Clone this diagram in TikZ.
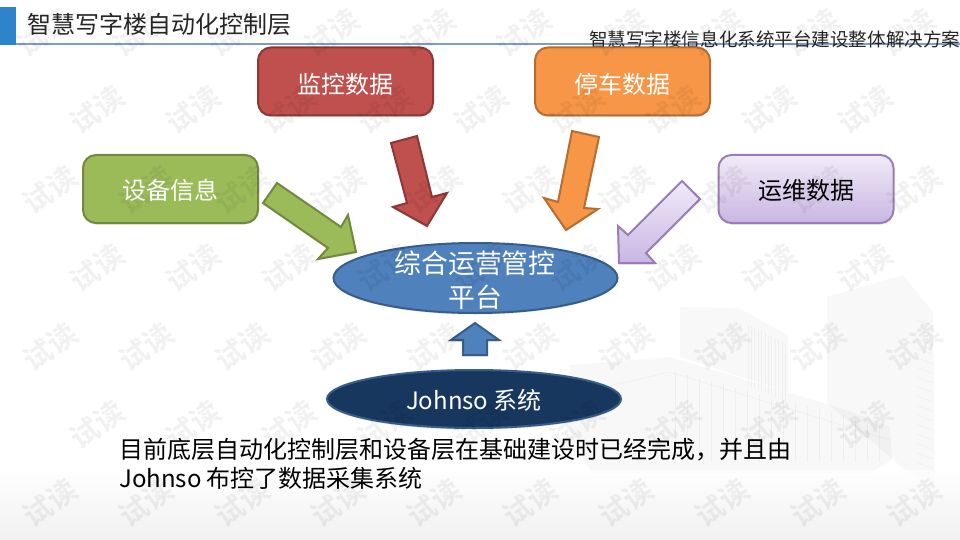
\documentclass[tikz,border=0pt]{standalone}
\usepackage{fontspec}
\setmainfont{Noto Sans CJK SC}
\newfontfamily\wmfont{Noto Sans CJK SC Bold}
\usetikzlibrary{shapes.geometric,shadows}
\definecolor{cRed}{HTML}{C0504D}\definecolor{cRedD}{HTML}{8C3836}
\definecolor{cOra}{HTML}{F79646}\definecolor{cOraD}{HTML}{B66D31}
\definecolor{cGre}{HTML}{9BBB59}\definecolor{cGreD}{HTML}{71893F}
\definecolor{cBlu}{HTML}{4F81BD}\definecolor{cBluD}{HTML}{385D8A}
\definecolor{cNav}{HTML}{17375E}
\definecolor{cPurT}{HTML}{F0EBF7}\definecolor{cPurB}{HTML}{C9B6E3}\definecolor{cPurD}{HTML}{9A7DB8}
\definecolor{cLine}{HTML}{7F9DC9}\definecolor{cTab}{HTML}{2F83CC}
\tikzset{
 x=1pt,y=-1pt,
 softshadow/.style={drop shadow={opacity=.22,shadow xshift=0pt,shadow yshift=-1.5pt}},
 box/.style={rounded corners=13pt,minimum width=175pt,minimum height=68pt,line width=2pt,font=\fontsize{24}{24}\selectfont,text=white,inner sep=0pt,softshadow},
 boxlabel/.style={font=\fontsize{24}{24}\selectfont,inner sep=0pt},
 oval/.style={ellipse,line width=2pt,inner sep=0pt,softshadow},
 arr/.style={line width=2pt,line join=miter,softshadow},
 wm/.style={rotate=35,text=black,opacity=.055,font=\wmfont\fontsize{29}{29}\selectfont,inner sep=0pt},
 bld/.style={fill=black,fill opacity=.028},
 bldline/.style={draw=black,draw opacity=.035,line width=.7pt},
}
\begin{document}
\begin{tikzpicture}
\useasboundingbox (0,0) rectangle (960,540);
\fill[white] (0,0) rectangle (960,540);
% faint building backdrop
\path[bld] (827,297)--(903,275)--(905,470)--(827,403)--cycle;
\path[bld] (903,275)--(933,312)--(935,490)--(905,470)--cycle;
\path[bld] (680,307)--(738,308)--(788,335)--(788,392)--(680,357)--cycle;
\path[bld] (570,365)--(670,357)--(847,410)--(890,427)--(892,460)--(870,473)--(593,473)--(570,440)--cycle;
\foreach \i in {0,...,11}{\draw[bldline] ({748+3.4*\i},{325+1.6*\i}) -- ({748+3.4*\i},{385+1.6*\i});}
\foreach \i in {0,...,16}{\draw[bldline] (917,{320+9.5*\i}) -- (933,{326+9.5*\i});}
\foreach \i in {0,...,17}{\draw[bldline] ({675+12*\i},{372+3.1*\i}) -- ({675+12*\i},{462});}
\draw[bldline] (570,395) -- (670,372) -- (890,440);
\shade[top color=white,bottom color=black!7,opacity=.8] (0,470) rectangle (960,540);
% header
\fill[cTab] (0,7) rectangle (16,45);
\draw[cLine,line width=1.3pt] (16,44) -- (960,44);
\node[anchor=west,inner sep=0pt,font=\fontsize{24}{24}\selectfont,text=black!85] (title) at (27,24) {智慧写字楼自动化控制层};
\node[anchor=west,inner sep=0pt,font=\fontsize{18.55}{19}\selectfont,text=black!85] (sub) at (589,39.5) {智慧写字楼信息化系统平台建设整体解决方案};
% source boxes
\node[box,fill=cRed,draw=cRedD] (jk) at (345.5,81.5) {};
\node[box,fill=cOra,draw=cOraD] (tc) at (622.5,81.5) {};
\node[box,fill=cGre,draw=cGreD] (sb) at (170.5,189) {};
\node[box,top color=cPurT,bottom color=cPurB,draw=cPurD] (yw) at (806,189) {};
\node[boxlabel,text=white] (jkt) at (345.5,84) {监控数据};
\node[boxlabel,text=white] (tct) at (622.5,84) {停车数据};
\node[boxlabel,text=white] (sbt) at (170.5,190.5) {设备信息};
\node[boxlabel,text=black] (ywt) at (806,190.5) {运维数据};
% ovals
\node[oval,fill=cBlu,draw=cBluD,minimum width=284pt,minimum height=70pt] (pt) at (475.5,278) {};
\node[oval,fill=cNav,draw=cBluD,minimum width=294pt,minimum height=58pt] (js) at (474,399) {};
\node[inner sep=0pt,text=white,font=\fontsize{26.8}{27}\selectfont] (pt1) at (475,263.5) {综合运营管控};
\node[inner sep=0pt,text=white,font=\fontsize{26.8}{27}\selectfont] (pt2) at (475,297.5) {平台};
\node[inner sep=0pt,text=white,font=\fontsize{24}{24}\selectfont] (jst) at (474,400) {Johnso 系统};
% block arrows
\draw[arr,fill=cGre,draw=cGreD] (277,183)--(263,203)--(328,248)--(318,259)--(356,252)--(348,215)--(341,227)--cycle;
\draw[arr,fill=cRed,draw=cRedD] (391,143)--(417,136)--(432,197)--(447,193)--(427,226)--(393,207)--(407,203)--cycle;
\draw[arr,fill=cOra,draw=cOraD] (572,131)--(599,137)--(584,208)--(598,209)--(566,230)--(544,198)--(558,202)--cycle;
\draw[arr,top color=cPurT,bottom color=cPurB,draw=cPurD] (682,181)--(700,199)--(646,253)--(655,263)--(619,263)--(618,226)--(628,235)--cycle;
\draw[arr,fill=cBlu,draw=cBluD] (475,323)--(499,340)--(487,340)--(487,355)--(463,355)--(463,340)--(451,340)--cycle;
% body text
\node[anchor=west,inner sep=0pt,font=\fontsize{24}{24}\selectfont,text=black] (b1) at (119,450) {目前底层自动化控制层和设备层在基础建设时已经完成，并且由};
\node[anchor=west,inner sep=0pt,font=\fontsize{24}{24}\selectfont,text=black] (b2) at (119,478) {Johnso 布控了数据采集系统};
% watermarks
\foreach \y/\o/\n in {33/44/9,110/97/8,190/50/9,268/97/8,347/50/9,425/97/8,503/50/9}{
 \foreach \k in {0,...,\n}{
  \node[wm] at ({\o+96*\k},\y) {试读};
 }
}
\end{tikzpicture}
\end{document}
